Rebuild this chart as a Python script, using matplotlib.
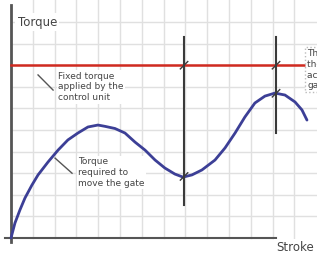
import matplotlib.pyplot as plt

# torque curve (stroke, torque)
stroke = [0, 0.18, 0.41, 0.64, 0.96, 1.24, 1.70, 2.16, 2.61, 3.07, 3.53, 3.99,
          4.31, 4.77, 5.23, 5.69, 6.15, 6.61, 7.06, 7.52, 7.89, 8.30, 8.76,
          9.36, 9.82, 10.28, 10.73, 11.19, 11.65, 12.11, 12.57, 13.03, 13.35, 13.58]
torque = [0, 0.69, 1.30, 1.85, 2.45, 2.92, 3.52, 4.07, 4.54, 4.86, 5.14, 5.23,
          5.17, 5.07, 4.86, 4.44, 4.07, 3.61, 3.24, 2.96, 2.82, 2.92, 3.15,
          3.61, 4.17, 4.86, 5.60, 6.25, 6.57, 6.71, 6.62, 6.30, 5.93, 5.46]

fixed_torque = 8.0
markers_x = [7.94, 12.16]
markers_top = [9.3, 9.3]
markers_bottom = [1.53, 4.86]
crossings = [(7.94, 8.0), (12.16, 8.0), (12.16, 6.7), (7.94, 2.85)]

fig = plt.figure(figsize=(3.17, 2.57), dpi=100)
ax = fig.add_axes([0, 0, 1, 1])
ax.set_xlim(-0.505, 14.04)
ax.set_ylim(-0.88, 11.02)
ax.axis('off')

grid_c = '#e0e0e0'
for gx in range(1, 14):
    ax.plot([gx, gx], [0, 11.02], color=grid_c, lw=1, zorder=0)
for gy in range(1, 11):
    ax.plot([0, 14.04], [gy, gy], color=grid_c, lw=1, zorder=0)

# axes
ax.plot([0, 0], [-0.18, 10.8], color='#555555', lw=2, zorder=3)
ax.plot([-0.27, 12.15], [0, 0], color='#555555', lw=1.5, zorder=3)

ax.plot([0, 13.6], [fixed_torque, fixed_torque], color='#d02a20', lw=1.8, zorder=4)
ax.plot(stroke, torque, color='#3c3f96', lw=2, zorder=5,
        solid_joinstyle='round', solid_capstyle='round')

for mx, t, b in zip(markers_x, markers_top, markers_bottom):
    ax.plot([mx, mx], [b, t], color='#3a3a3a', lw=1.5, zorder=6)
for cx, cy in crossings:
    ax.plot([cx - 0.17, cx + 0.17], [cy - 0.17, cy + 0.17], color='#3a3a3a', lw=1, zorder=7)

txt = '#444444'
ax.text(0.3, 10.0, 'Torque', fontsize=8.5, color=txt, va='center', ha='left',
        bbox=dict(facecolor='white', edgecolor='none', pad=1.5), zorder=8)
ax.text(12.18, -0.45, 'Stroke', fontsize=8.5, color=txt, va='center', ha='left',
        bbox=dict(facecolor='white', edgecolor='none', pad=1.5), zorder=8)

ax.text(2.16, 7.7, 'Fixed torque\napplied by the\ncontrol unit', fontsize=6.5,
        color=txt, va='top', ha='left', linespacing=1.25,
        bbox=dict(facecolor='white', edgecolor='none', pad=1), zorder=8)
ax.plot([1.24, 1.93], [7.55, 6.85], color='#555555', lw=1, zorder=8)

ax.text(3.07, 3.75, 'Torque\nrequired to\nmove the gate', fontsize=6.5,
        color=txt, va='top', ha='left', linespacing=1.25,
        bbox=dict(facecolor='white', edgecolor='none', pad=1), zorder=8)
ax.plot([2.02, 2.8], [3.7, 3.0], color='#555555', lw=1, zorder=8)

ax.text(13.6, 8.75, 'The difference is\nthe margin of\nacting on the\ngate', fontsize=6.5,
        color=txt, va='top', ha='left', linespacing=1.25,
        bbox=dict(facecolor='white', edgecolor='#bbbbbb', linestyle=':', pad=1.5), zorder=8)

fig.savefig('out.png', dpi=100)
